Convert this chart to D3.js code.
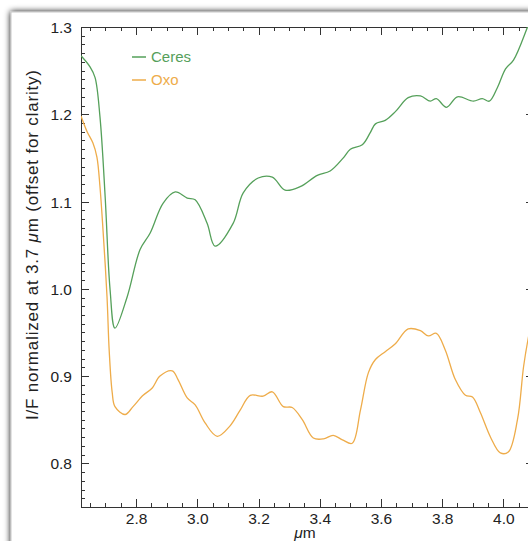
<!DOCTYPE html>
<html lang="en">
<head>
<meta charset="utf-8">
<title>Ceres vs Oxo spectra</title>
<script src="https://d3js.org/d3.v7.min.js"></script>
<style>
  body { margin: 0; background: #fff; }
  svg { display: block; font-family: "Liberation Sans", Arial, sans-serif; }
  .axis path, .axis line { stroke: #333; shape-rendering: crispEdges; }
  .axis text { fill: #222; font-size: 15.5px; }
</style>
</head>
<body>
<div id="chart"></div>
<script>
// wavelength (um) and I/F
var ceresWave = [2.620, 2.650, 2.666, 2.682, 2.699, 2.715, 2.731, 2.771, 2.813, 2.846,
  2.888, 2.928, 2.967, 2.993, 3.032, 3.058, 3.117, 3.150, 3.199, 3.245,
  3.287, 3.336, 3.392, 3.434, 3.477, 3.500, 3.539, 3.565, 3.582, 3.614,
  3.647, 3.689, 3.729, 3.761, 3.781, 3.814, 3.850, 3.902, 3.931, 3.954,
  3.981, 4.007, 4.033, 4.079, 4.100];
var ceresIF = [1.267, 1.254, 1.242, 1.197, 1.105, 0.999, 0.955, 0.991, 1.045, 1.064,
  1.098, 1.111, 1.104, 1.102, 1.075, 1.049, 1.075, 1.110, 1.127, 1.128,
  1.113, 1.117, 1.130, 1.135, 1.150, 1.160, 1.165, 1.179, 1.189, 1.193,
  1.203, 1.219, 1.221, 1.215, 1.218, 1.208, 1.220, 1.215, 1.218, 1.215,
  1.231, 1.252, 1.262, 1.300, 1.318];

var oxoWave = [2.620, 2.640, 2.659, 2.672, 2.682, 2.692, 2.705, 2.712, 2.722, 2.731,
  2.764, 2.790, 2.823, 2.852, 2.878, 2.918, 2.937, 2.967, 2.993, 3.026,
  3.065, 3.107, 3.140, 3.173, 3.215, 3.245, 3.281, 3.310, 3.343, 3.379,
  3.412, 3.444, 3.474, 3.506, 3.533, 3.559, 3.582, 3.614, 3.647, 3.689,
  3.729, 3.755, 3.781, 3.810, 3.843, 3.876, 3.899, 3.925, 3.958, 3.990,
  4.016, 4.046, 4.066, 4.082, 4.100];
var oxoIF = [1.198, 1.180, 1.167, 1.151, 1.117, 1.067, 0.991, 0.930, 0.881, 0.865,
  0.856, 0.865, 0.878, 0.886, 0.900, 0.906, 0.896, 0.875, 0.867, 0.846,
  0.831, 0.843, 0.861, 0.878, 0.877, 0.882, 0.865, 0.864, 0.850, 0.829,
  0.828, 0.832, 0.827, 0.823, 0.861, 0.904, 0.919, 0.928, 0.937, 0.954,
  0.952, 0.946, 0.949, 0.930, 0.896, 0.878, 0.876, 0.858, 0.830, 0.812,
  0.813, 0.850, 0.911, 0.945, 0.975];

var xMajor = [2.8, 3.0, 3.2, 3.4, 3.6, 3.8, 4.0];
var yMajor = [0.8, 0.9, 1.0, 1.1, 1.2, 1.3];
var seriesNames = ["Ceres", "Oxo"];
var seriesColors = ["#55a05a", "#eeac4a"];

var width = 528, height = 541;
var mLeft = 81, mRight = 534, mTop = 27, mBottom = 507;

var svg = d3.select("#chart").append("svg")
  .attr("width", width)
  .attr("height", height);

// screenshot frame with soft shadow
var defs = svg.append("defs");
var shadow = defs.append("filter").attr("id", "shadow")
  .attr("x", "-5%").attr("y", "-5%").attr("width", "110%").attr("height", "110%");
shadow.append("feGaussianBlur").attr("in", "SourceAlpha").attr("stdDeviation", 3)
  .attr("result", "blur");
var merge = shadow.append("feMerge");
merge.append("feMergeNode").attr("in", "blur");
merge.append("feMergeNode").attr("in", "SourceGraphic");

svg.append("rect")
  .attr("x", 11).attr("y", 12)
  .attr("width", 560).attr("height", 560)
  .attr("fill", "#fff")
  .attr("stroke", "#c8c8c8")
  .attr("filter", "url(#shadow)");

defs.append("clipPath").attr("id", "plotclip")
  .append("rect")
  .attr("x", mLeft).attr("y", mTop)
  .attr("width", mRight - mLeft).attr("height", mBottom - mTop);

var x = d3.scaleLinear().domain([2.62, 4.10]).range([mLeft, mRight]);
var y = d3.scaleLinear().domain([0.75, 1.30]).range([mBottom, mTop]);

var xMinor = d3.range(2.65, 4.10, 0.05).filter(function(v) {
  return Math.abs(Math.round(v * 5) - v * 5) > 0.01;
});
var yMinor = d3.range(0.75, 1.30, 0.01).filter(function(v) {
  return Math.abs(Math.round(v * 10) - v * 10) > 0.01;
});

// major axes (ticks pointing inward)
var xAxisG = svg.append("g").attr("class", "axis")
  .attr("transform", "translate(0," + mBottom + ")")
  .call(d3.axisBottom(x).tickValues(xMajor).tickSize(-8).tickPadding(6)
    .tickFormat(d3.format(".1f")));
svg.append("g").attr("class", "axis")
  .attr("transform", "translate(0," + mTop + ")")
  .call(d3.axisTop(x).tickValues(xMajor).tickSize(-8).tickFormat(""));
var yAxisG = svg.append("g").attr("class", "axis")
  .attr("transform", "translate(" + mLeft + ",0)")
  .call(d3.axisLeft(y).tickValues(yMajor).tickSize(-8).tickPadding(9)
    .tickFormat(d3.format(".1f")));
svg.append("g").attr("class", "axis")
  .attr("transform", "translate(" + mRight + ",0)")
  .call(d3.axisRight(y).tickValues(yMajor).tickSize(-8).tickFormat(""));

// minor ticks
var minorAxes = [
  [d3.axisBottom(x).tickValues(xMinor), "translate(0," + mBottom + ")"],
  [d3.axisTop(x).tickValues(xMinor), "translate(0," + mTop + ")"],
  [d3.axisLeft(y).tickValues(yMinor), "translate(" + mLeft + ",0)"],
  [d3.axisRight(y).tickValues(yMinor), "translate(" + mRight + ",0)"]
];
minorAxes.forEach(function(a) {
  var g = svg.append("g").attr("class", "axis").attr("transform", a[1])
    .call(a[0].tickSize(-4).tickFormat(""));
  g.select(".domain").remove();
});

xAxisG.selectAll("text").attr("dy", "0.72em");
yAxisG.selectAll("text").attr("dy", "0.36em");

// spectra
var line = d3.line()
  .x(function(d) { return x(d[0]); })
  .y(function(d) { return y(d[1]); })
  .curve(d3.curveCatmullRom.alpha(0.5));

var series = [d3.zip(ceresWave, ceresIF), d3.zip(oxoWave, oxoIF)];

svg.append("g").attr("clip-path", "url(#plotclip)")
  .selectAll("path")
  .data(series)
  .enter()
  .append("path")
  .attr("d", line)
  .attr("fill", "none")
  .attr("stroke", function(d, i) { return seriesColors[i]; })
  .attr("stroke-width", 1.3);

// legend
var legend = svg.selectAll(".legend")
  .data(seriesNames)
  .enter()
  .append("g")
  .attr("class", "legend")
  .attr("transform", function(d, i) { return "translate(132," + (57 + i * 23) + ")"; });
legend.append("line")
  .attr("x1", 0).attr("x2", 14)
  .attr("stroke", function(d, i) { return seriesColors[i]; })
  .attr("stroke-width", 1.5);
legend.append("text")
  .attr("x", 19).attr("dy", "0.36em")
  .attr("fill", function(d, i) { return seriesColors[i]; })
  .style("font-size", "15px")
  .text(function(d) { return d; });

// axis titles
var xt = svg.append("text")
  .attr("x", 305).attr("y", 538)
  .attr("text-anchor", "middle")
  .attr("fill", "#222")
  .style("font-size", "15.5px");
xt.append("tspan").style("font-style", "italic").text("\u03bc");
xt.append("tspan").text("m");

var yt = svg.append("text")
  .attr("transform", "translate(38,245) rotate(-90)")
  .attr("text-anchor", "middle")
  .attr("fill", "#222")
  .attr("textLength", 350)
  .attr("lengthAdjust", "spacing")
  .style("font-size", "17px");
yt.append("tspan").text("I/F normalized at 3.7 ");
yt.append("tspan").style("font-style", "italic").text("\u03bc");
yt.append("tspan").text("m (offset for clarity)");
</script>
</body>
</html>
